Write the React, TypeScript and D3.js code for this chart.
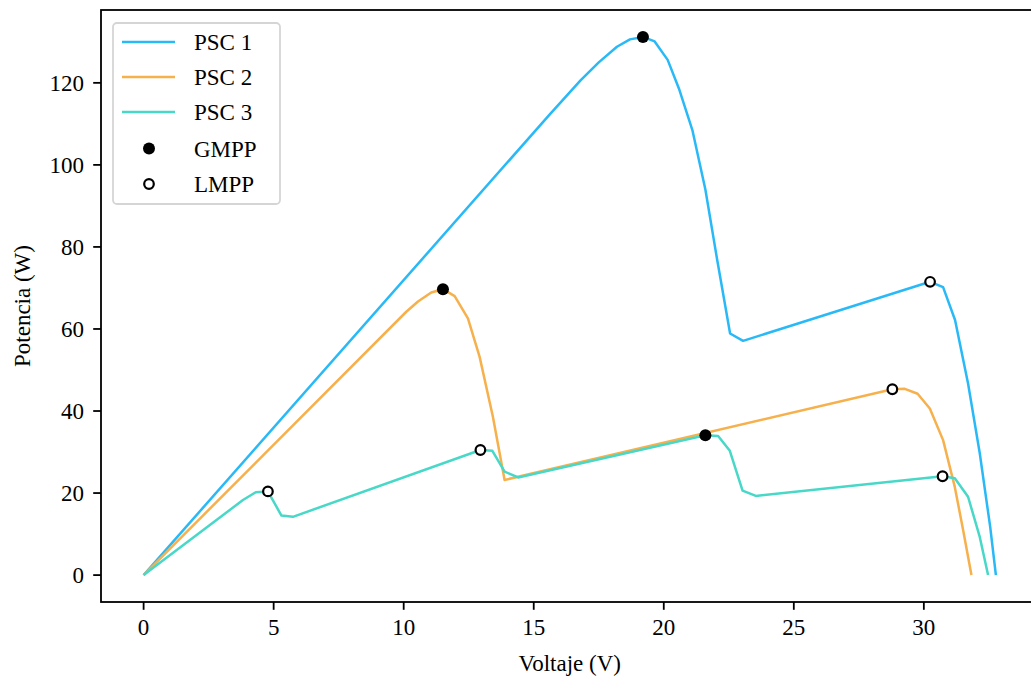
import React from 'react';
import * as d3 from 'd3';

// Curvas P-V bajo sombreado parcial
const psc1: [number, number][] = [
  [0, 0], [15.6, 112.2], [16.8, 120.6], [17.5, 125.0], [18.2, 128.8], [18.7, 130.6],
  [19.2, 131.2], [19.65, 130.1], [20.15, 125.6], [20.6, 118.3], [21.1, 108.5],
  [21.6, 94.0], [22.05, 77.0], [22.55, 58.9], [23.05, 57.1], [30.24, 71.5],
  [30.74, 70.2], [31.2, 62.2], [31.7, 46.7], [32.15, 29.7], [32.55, 11.8], [32.77, 0],
];
const psc2: [number, number][] = [
  [0, 0], [10.1, 64.2], [10.55, 66.7], [11.06, 68.9], [11.51, 69.7], [11.96, 68.0],
  [12.47, 62.6], [12.92, 53.2], [13.43, 38.6], [13.88, 23.2], [28.79, 45.3],
  [29.27, 45.4], [29.76, 44.2], [30.23, 40.6], [30.74, 32.9], [31.19, 21.5],
  [31.51, 11.0], [31.83, 0],
];
const psc3: [number, number][] = [
  [0, 0], [3.82, 18.3], [4.31, 20.2], [4.78, 20.4], [5.3, 14.5], [5.74, 14.2],
  [12.95, 30.5], [13.41, 30.3], [13.88, 25.2], [14.4, 23.8], [21.6, 34.1],
  [22.09, 33.9], [22.54, 30.3], [23.03, 20.6], [23.54, 19.3], [30.72, 24.1],
  [31.19, 23.6], [31.7, 19.1], [32.15, 9.3], [32.47, 0],
];
const gmpp: [number, number][] = [[19.2, 131.2], [11.51, 69.7], [21.6, 34.1]];
const lmpp: [number, number][] = [[30.24, 71.5], [28.79, 45.3], [4.78, 20.4], [12.95, 30.5], [30.72, 24.1]];

const seriesNames = ['PSC 1', 'PSC 2', 'PSC 3'];
const seriesColors = ['#29B9F7', '#F6B04C', '#48D8C8'];
const xTicks = [0, 5, 10, 15, 20, 25, 30];
const yTicks = [0, 20, 40, 60, 80, 100, 120];

const W = 1031;
const H = 679;
const FONT = '"Liberation Serif", "Times New Roman", serif';

export default function App() {
  const all = [...psc1, ...psc2, ...psc3];
  const xMax = d3.max(all, d => d[0]) as number;
  const yMax = d3.max(all, d => d[1]) as number;
  const x = d3.scaleLinear().domain([-0.05 * xMax, 1.05 * xMax]).range([101, 1038.5]);
  const y = d3.scaleLinear().domain([-0.05 * yMax, 1.05 * yMax]).range([602, 10]);
  const line = d3.line<[number, number]>().x(d => x(d[0])).y(d => y(d[1]));
  const series = [psc1, psc2, psc3];

  const [x0, x1] = x.range();
  const [y0, y1] = y.range();

  return (
    <svg width={W} height={H} style={{ position: 'absolute', left: 0, top: 0, background: '#fff' }}
      fontFamily={FONT}>
      <defs>
        <clipPath id="plot">
          <rect x={x0} y={y1} width={x1 - x0} height={y0 - y1} />
        </clipPath>
      </defs>

      <g clipPath="url(#plot)">
        {series.map((s, i) => (
          <path key={i} d={line(s) || ''} fill="none" stroke={seriesColors[i]}
            strokeWidth={2.5} strokeLinejoin="round" />
        ))}
        {gmpp.map((d, i) => (
          <circle key={'g' + i} cx={x(d[0])} cy={y(d[1])} r={6} fill="#000" />
        ))}
        {lmpp.map((d, i) => (
          <circle key={'l' + i} cx={x(d[0])} cy={y(d[1])} r={4.8} fill="#fff" stroke="#000" strokeWidth={2.2} />
        ))}
      </g>

      {/* spines */}
      <rect x={x0} y={y1} width={x1 - x0} height={y0 - y1} fill="none" stroke="#000" strokeWidth={1.8} />

      {/* x axis */}
      {xTicks.map(t => (
        <g key={'x' + t} transform={`translate(${x(t)},${y0})`}>
          <line y2={7.8} stroke="#000" strokeWidth={1.8} />
          <text y={33} textAnchor="middle" fontSize={23}>{t}</text>
        </g>
      ))}
      {/* y axis */}
      {yTicks.map(t => (
        <g key={'y' + t} transform={`translate(${x0},${y(t)})`}>
          <line x2={-7.8} stroke="#000" strokeWidth={1.8} />
          <text x={-17} y={8} textAnchor="end" fontSize={23}>{t}</text>
        </g>
      ))}

      <text x={(x0 + x1) / 2} y={671} textAnchor="middle" fontSize={23}>Voltaje (V)</text>
      <text transform={`translate(30,${(y0 + y1) / 2}) rotate(-90)`} textAnchor="middle" fontSize={23}>Potencia (W)</text>

      {/* legend */}
      <g transform="translate(113,23)">
        <rect width={167} height={181} rx={4} fill="#fff" fillOpacity={0.8} stroke="#d5d5d5" strokeWidth={1.8} />
        {seriesNames.map((n, i) => (
          <g key={n} transform={`translate(0,${19 + i * 35})`}>
            <line x1={9} x2={62} stroke={seriesColors[i]} strokeWidth={2.5} />
            <text x={81} y={8} fontSize={23}>{n}</text>
          </g>
        ))}
        <g transform={`translate(0,${19 + 3 * 35.5})`}>
          <circle cx={36} r={6} fill="#000" />
          <text x={81} y={8} fontSize={23}>GMPP</text>
        </g>
        <g transform={`translate(0,${19 + 4 * 35.5})`}>
          <circle cx={36} r={4.8} fill="#fff" stroke="#000" strokeWidth={2.2} />
          <text x={81} y={8} fontSize={23}>LMPP</text>
        </g>
      </g>
    </svg>
  );
}
